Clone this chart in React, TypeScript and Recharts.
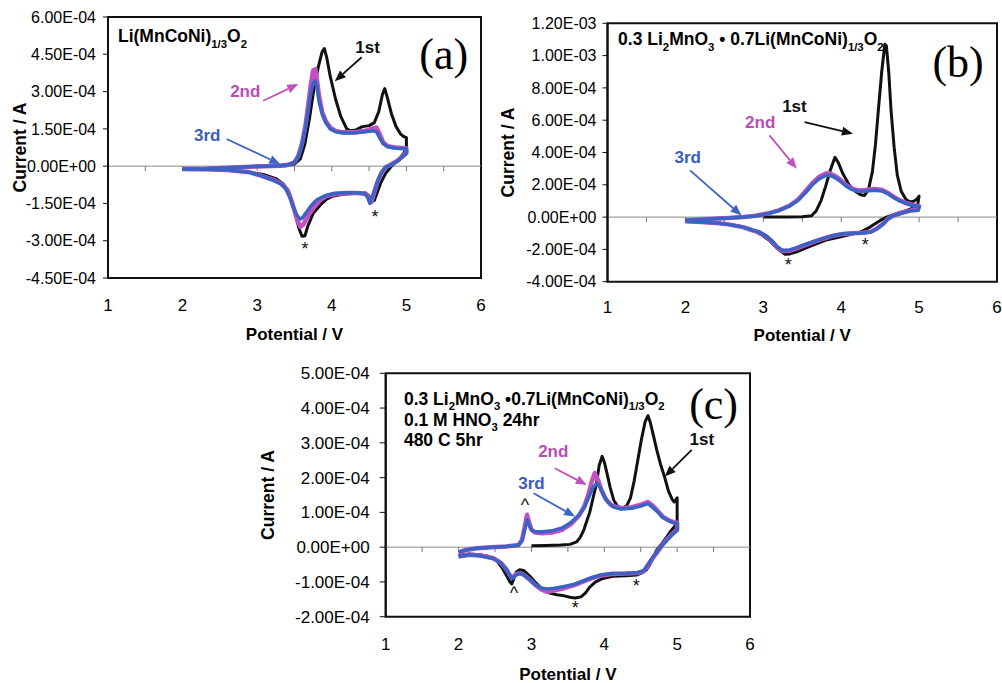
import React from 'react';
import { LineChart, Line, XAxis, YAxis, ReferenceLine, ReferenceArea, ReferenceDot } from 'recharts';

const SANS = '"Liberation Sans", Arial, Helvetica, sans-serif';
const SERIF = '"Liberation Serif", "Times New Roman", serif';
const BLACK = '#111111';
const MAGENTA = '#c251bf';
const BLUE = '#3b63c6';
const MAGENTA_TXT = '#b94db6';
const BLUE_TXT = '#3a5cc0';

// x: potential / V ; y: current in units of 1e-4 A
const potentialTicks = [1, 2, 3, 4, 5, 6];
const zeroLineTicks = [1.5, 2, 2.5, 3, 3.5, 4, 4.5, 5, 5.5];
const aCurrentTicks = [-4.5, -3, -1.5, 0, 1.5, 3, 4.5, 6];
const bCurrentTicks = [-4, -2, 0, 2, 4, 6, 8, 10, 12];
const cCurrentTicks = [-2, -1, 0, 1, 2, 3, 4, 5];

type Pt = [number, number];

// ---------- panel (a) Li(MnCoNi)1/3O2 ----------
const aCycle1: Pt[] = [
  [3.0, 0.0], [3.2, 0.0], [3.4, 0.02], [3.5, 0.08], [3.58, 0.3], [3.64, 0.9], [3.7, 1.9], [3.76, 3.1],
  [3.82, 4.0], [3.87, 4.6], [3.9, 4.73], [3.93, 4.4], [3.98, 3.6], [4.05, 2.7], [4.12, 2.0], [4.2, 1.5],
  [4.25, 1.42], [4.32, 1.45], [4.4, 1.58], [4.5, 1.63], [4.57, 1.75], [4.63, 2.2], [4.68, 2.9], [4.71, 3.12],
  [4.75, 2.7], [4.8, 2.1], [4.86, 1.6], [4.92, 1.3], [4.96, 1.2], [5.0, 1.15],
  [5.0, 0.7], [4.96, 0.5], [4.9, 0.28], [4.8, 0.0], [4.72, -0.3], [4.66, -0.65], [4.61, -1.05], [4.57, -1.38],
  [4.54, -1.42], [4.5, -1.2], [4.45, -1.08], [4.3, -1.1], [4.15, -1.13], [4.02, -1.2], [3.93, -1.33],
  [3.85, -1.55], [3.75, -1.9], [3.68, -2.4], [3.64, -2.8], [3.6, -2.82], [3.56, -2.5], [3.52, -2.05],
  [3.47, -1.45], [3.42, -1.0], [3.35, -0.72], [3.25, -0.5], [3.1, -0.35], [2.9, -0.25], [2.7, -0.19],
  [2.4, -0.15], [2.0, -0.12],
];
const aCycle2: Pt[] = [
  [2.0, -0.12], [2.3, -0.1], [2.6, -0.06], [2.9, -0.02], [3.1, 0.0], [3.3, 0.02], [3.42, 0.06], [3.5, 0.15],
  [3.55, 0.4], [3.6, 0.9], [3.65, 1.7], [3.69, 2.6], [3.72, 3.3], [3.75, 3.85], [3.78, 3.9], [3.8, 3.5],
  [3.83, 2.8], [3.87, 2.2], [3.92, 1.8], [3.98, 1.55], [4.05, 1.42], [4.15, 1.36], [4.3, 1.36], [4.45, 1.42],
  [4.55, 1.52], [4.6, 1.55], [4.64, 1.3], [4.69, 0.95], [4.75, 0.8], [4.85, 0.75], [5.0, 0.72],
  [5.0, 0.55], [4.95, 0.4], [4.88, 0.22], [4.8, 0.08], [4.72, -0.05], [4.66, -0.3], [4.61, -0.65],
  [4.57, -1.05], [4.53, -1.45], [4.5, -1.3], [4.46, -1.12], [4.35, -1.08], [4.2, -1.08], [4.05, -1.12],
  [3.93, -1.2], [3.85, -1.35], [3.76, -1.65], [3.68, -2.0], [3.62, -2.35], [3.58, -2.44], [3.54, -2.2],
  [3.5, -1.8], [3.45, -1.3], [3.4, -0.95], [3.32, -0.7], [3.22, -0.55], [3.05, -0.38], [2.9, -0.25],
  [2.6, -0.16], [2.3, -0.12], [2.0, -0.1],
];
const aCycle3: Pt[] = [
  [2.0, -0.12], [2.3, -0.1], [2.6, -0.06], [2.9, -0.02], [3.1, 0.0], [3.3, 0.02], [3.42, 0.06], [3.5, 0.15],
  [3.55, 0.4], [3.6, 0.85], [3.65, 1.6], [3.69, 2.4], [3.72, 2.95], [3.75, 3.35], [3.78, 3.43], [3.8, 3.2],
  [3.83, 2.6], [3.87, 2.1], [3.92, 1.75], [3.98, 1.5], [4.05, 1.38], [4.15, 1.33], [4.3, 1.33], [4.45, 1.38],
  [4.55, 1.42], [4.6, 1.38], [4.64, 1.15], [4.69, 0.9], [4.75, 0.78], [4.85, 0.72], [5.0, 0.7],
  [5.0, 0.5], [4.95, 0.38], [4.88, 0.2], [4.8, 0.06], [4.72, -0.05], [4.66, -0.3], [4.61, -0.65],
  [4.56, -1.1], [4.51, -1.5], [4.48, -1.25], [4.44, -1.1], [4.3, -1.07], [4.15, -1.07], [4.02, -1.1],
  [3.9, -1.2], [3.8, -1.35], [3.72, -1.6], [3.66, -1.86], [3.6, -2.1], [3.57, -2.13], [3.53, -1.95],
  [3.48, -1.6], [3.43, -1.2], [3.38, -0.9], [3.3, -0.68], [3.2, -0.55], [3.05, -0.38], [2.9, -0.25],
  [2.6, -0.16], [2.3, -0.12], [2.0, -0.1],
];

// ---------- panel (b) 0.3 Li2MnO3 • 0.7Li(MnCoNi)1/3O2 ----------
const bCycle1: Pt[] = [
  [3.0, 0.0], [3.3, 0.0], [3.5, 0.02], [3.62, 0.08], [3.68, 0.4], [3.74, 1.0], [3.8, 1.9], [3.86, 2.9],
  [3.92, 3.7], [3.96, 3.4], [4.02, 2.7], [4.1, 2.0], [4.18, 1.6], [4.25, 1.38], [4.3, 1.34], [4.35, 1.7],
  [4.4, 2.8], [4.44, 4.5], [4.48, 6.8], [4.52, 9.0], [4.56, 10.7], [4.58, 10.6], [4.61, 9.0], [4.64, 6.6],
  [4.68, 4.3], [4.72, 2.6], [4.77, 1.6], [4.83, 1.1], [4.88, 0.93], [4.93, 0.98], [4.97, 1.1], [5.0, 1.3],
  [4.98, 0.7], [4.92, 0.55], [4.84, 0.41], [4.7, 0.2], [4.58, 0.0], [4.47, -0.3], [4.37, -0.62],
  [4.25, -0.92], [4.1, -1.1], [3.98, -1.24], [3.82, -1.4], [3.68, -1.65], [3.55, -1.9], [3.43, -2.15],
  [3.34, -2.28], [3.28, -2.3], [3.22, -2.1], [3.15, -1.8], [3.08, -1.45], [2.98, -1.1], [2.83, -0.72],
  [2.65, -0.52], [2.48, -0.41], [2.25, -0.3], [2.0, -0.2],
];
const bCycle2: Pt[] = [
  [2.0, -0.2], [2.3, -0.12], [2.55, -0.05], [2.75, 0.0], [2.9, 0.08], [3.05, 0.22], [3.2, 0.42],
  [3.34, 0.72], [3.45, 1.1], [3.55, 1.65], [3.63, 2.1], [3.72, 2.5], [3.8, 2.7], [3.85, 2.72], [3.92, 2.55],
  [3.98, 2.35], [4.06, 2.0], [4.13, 1.78], [4.22, 1.65], [4.32, 1.68], [4.42, 1.74], [4.52, 1.7],
  [4.6, 1.5], [4.67, 1.27], [4.75, 1.05], [4.82, 0.9], [4.92, 0.75], [5.0, 0.68],
  [4.98, 0.45], [4.9, 0.42], [4.8, 0.3], [4.67, 0.1], [4.6, -0.1], [4.54, -0.41], [4.46, -0.7],
  [4.38, -0.9], [4.28, -0.97], [4.15, -1.0], [4.02, -1.04], [3.88, -1.18], [3.77, -1.34], [3.64, -1.55],
  [3.51, -1.78], [3.42, -1.95], [3.34, -2.08], [3.25, -2.1], [3.18, -1.9], [3.12, -1.55], [3.04, -1.2],
  [2.95, -0.95], [2.83, -0.78], [2.74, -0.62], [2.55, -0.45], [2.4, -0.37], [2.2, -0.3], [2.0, -0.25],
];
const bCycle3: Pt[] = [
  [2.0, -0.2], [2.3, -0.12], [2.55, -0.05], [2.75, 0.0], [2.9, 0.07], [3.05, 0.2], [3.2, 0.4],
  [3.34, 0.7], [3.45, 1.05], [3.55, 1.55], [3.63, 2.0], [3.72, 2.38], [3.8, 2.58], [3.85, 2.6],
  [3.92, 2.45], [3.98, 2.25], [4.06, 1.93], [4.13, 1.72], [4.22, 1.6], [4.32, 1.62], [4.42, 1.66],
  [4.52, 1.62], [4.6, 1.45], [4.67, 1.22], [4.75, 1.0], [4.82, 0.86], [4.92, 0.72], [5.0, 0.66],
  [4.99, 0.42], [4.9, 0.4], [4.8, 0.28], [4.67, 0.1], [4.6, -0.1], [4.54, -0.41], [4.46, -0.72],
  [4.38, -0.92], [4.28, -0.98], [4.15, -1.0], [4.02, -1.03], [3.88, -1.16], [3.77, -1.32], [3.64, -1.52],
  [3.51, -1.74], [3.42, -1.9], [3.34, -2.03], [3.25, -2.06], [3.18, -1.85], [3.12, -1.52], [3.04, -1.18],
  [2.95, -0.93], [2.83, -0.76], [2.74, -0.62], [2.55, -0.45], [2.4, -0.37], [2.2, -0.3], [2.0, -0.25],
];

// ---------- panel (c) acid treated + 480 C ----------
const cCycle1: Pt[] = [
  [3.0, 0.04], [3.2, 0.05], [3.4, 0.06], [3.53, 0.08], [3.62, 0.15], [3.67, 0.28], [3.72, 0.5],
  [3.76, 0.75], [3.8, 1.0], [3.85, 1.45], [3.89, 1.8], [3.93, 2.35], [3.97, 2.61], [4.0, 2.45],
  [4.04, 2.1], [4.08, 1.72], [4.13, 1.35], [4.18, 1.18], [4.25, 1.12], [4.31, 1.2], [4.36, 1.42],
  [4.41, 1.9], [4.46, 2.5], [4.51, 3.1], [4.56, 3.6], [4.6, 3.78], [4.63, 3.6], [4.67, 3.25],
  [4.72, 2.8], [4.77, 2.4], [4.83, 2.0], [4.88, 1.62], [4.93, 1.38], [4.96, 1.3], [4.98, 1.36],
  [5.0, 1.42], [5.0, 0.7], [4.96, 0.58], [4.92, 0.48], [4.86, 0.3], [4.81, 0.16], [4.76, 0.02],
  [4.72, -0.08], [4.67, -0.3], [4.63, -0.48], [4.58, -0.65], [4.52, -0.74], [4.44, -0.8], [4.3, -0.82],
  [4.12, -0.84], [3.98, -0.9], [3.88, -1.0], [3.8, -1.15], [3.74, -1.32], [3.68, -1.43], [3.6, -1.46],
  [3.53, -1.44], [3.45, -1.4], [3.35, -1.37], [3.25, -1.32], [3.18, -1.25], [3.12, -1.15], [3.05, -1.0],
  [2.98, -0.84], [2.9, -0.68], [2.84, -0.65], [2.79, -0.72], [2.75, -0.95], [2.73, -1.06], [2.7, -0.98],
  [2.66, -0.82], [2.6, -0.6], [2.52, -0.38], [2.4, -0.26], [2.29, -0.22], [2.15, -0.2], [2.0, -0.22],
];
const cCycle2: Pt[] = [
  [2.0, -0.15], [2.1, -0.08], [2.25, -0.03], [2.45, 0.0], [2.65, 0.02], [2.82, 0.06], [2.87, 0.2],
  [2.91, 0.6], [2.94, 0.93], [2.97, 0.7], [3.0, 0.5], [3.05, 0.42], [3.15, 0.4], [3.28, 0.42],
  [3.42, 0.5], [3.55, 0.68], [3.65, 0.9], [3.72, 1.15], [3.78, 1.5], [3.83, 1.9], [3.87, 2.13],
  [3.91, 1.95], [3.96, 1.65], [4.02, 1.38], [4.1, 1.2], [4.22, 1.12], [4.38, 1.15], [4.5, 1.22],
  [4.6, 1.3], [4.66, 1.2], [4.73, 1.05], [4.8, 0.88], [4.88, 0.78], [4.95, 0.72], [5.0, 0.7],
  [5.0, 0.5], [4.93, 0.38], [4.86, 0.22], [4.8, 0.08], [4.74, -0.1], [4.67, -0.3], [4.6, -0.52],
  [4.54, -0.7], [4.46, -0.74], [4.3, -0.76], [4.1, -0.77], [3.95, -0.82], [3.82, -0.9], [3.7, -1.0],
  [3.58, -1.1], [3.45, -1.18], [3.32, -1.24], [3.21, -1.28], [3.14, -1.22], [3.06, -1.1], [2.98, -0.94],
  [2.9, -0.8], [2.84, -0.75], [2.79, -0.78], [2.75, -0.85], [2.73, -0.88], [2.7, -0.8], [2.66, -0.65],
  [2.58, -0.45], [2.48, -0.32], [2.3, -0.24], [2.15, -0.22], [2.0, -0.27],
];
const cCycle3: Pt[] = [
  [2.0, -0.15], [2.1, -0.08], [2.25, -0.03], [2.45, 0.0], [2.65, 0.02], [2.82, 0.05], [2.87, 0.18],
  [2.91, 0.52], [2.94, 0.79], [2.97, 0.62], [3.0, 0.5], [3.05, 0.44], [3.15, 0.44], [3.28, 0.47],
  [3.42, 0.55], [3.55, 0.72], [3.65, 0.92], [3.72, 1.12], [3.78, 1.4], [3.84, 1.7], [3.9, 1.84],
  [3.94, 1.72], [3.99, 1.5], [4.05, 1.3], [4.12, 1.16], [4.22, 1.1], [4.38, 1.12], [4.5, 1.18],
  [4.6, 1.25], [4.66, 1.15], [4.73, 1.02], [4.8, 0.86], [4.88, 0.76], [4.95, 0.7], [5.0, 0.68],
  [5.0, 0.48], [4.93, 0.35], [4.86, 0.2], [4.8, 0.07], [4.74, -0.1], [4.67, -0.28], [4.6, -0.5],
  [4.54, -0.68], [4.46, -0.73], [4.3, -0.75], [4.1, -0.76], [3.95, -0.8], [3.82, -0.88], [3.7, -0.98],
  [3.58, -1.07], [3.45, -1.13], [3.32, -1.18], [3.21, -1.2], [3.12, -1.17], [3.05, -1.07], [2.98, -0.94],
  [2.9, -0.8], [2.84, -0.75], [2.79, -0.8], [2.75, -0.88], [2.73, -0.9], [2.7, -0.8], [2.66, -0.66],
  [2.58, -0.46], [2.48, -0.33], [2.3, -0.25], [2.15, -0.22], [2.0, -0.27],
];

type Seg = { t: string; sub?: boolean };
type Note = { text: string; v: number; i: number; color: string };
type Arrow = { from: Pt; to: Pt; color: string };
type FormulaLine = { v: number; i: number; segs: Seg[] };

const aFormula: FormulaLine[] = [
  { v: 1.134, i: 4.98, segs: [{ t: 'Li(MnCoNi)' }, { t: '1/3', sub: true }, { t: 'O' }, { t: '2', sub: true }] },
];
const bFormula: FormulaLine[] = [
  {
    v: 1.136, i: 10.63,
    segs: [{ t: '0.3 Li' }, { t: '2', sub: true }, { t: 'MnO' }, { t: '3', sub: true }, { t: ' • 0.7Li(MnCoNi)' },
      { t: '1/3', sub: true }, { t: 'O' }, { t: '2', sub: true }],
  },
];
const cFormula: FormulaLine[] = [
  {
    v: 1.25, i: 4.1,
    segs: [{ t: '0.3 Li' }, { t: '2', sub: true }, { t: 'MnO' }, { t: '3', sub: true }, { t: ' •0.7Li(MnCoNi)' },
      { t: '1/3', sub: true }, { t: 'O' }, { t: '2', sub: true }],
  },
  { v: 1.25, i: 3.48, segs: [{ t: '0.1 M HNO' }, { t: '3', sub: true }, { t: ' 24hr' }] },
  { v: 1.25, i: 2.9, segs: [{ t: '480 C 5hr' }] },
];

const aNotes: Note[] = [
  { text: '1st', v: 4.48, i: 4.77, color: BLACK },
  { text: '2nd', v: 2.84, i: 3.02, color: MAGENTA_TXT },
  { text: '3rd', v: 2.33, i: 1.22, color: BLUE_TXT },
];
const aArrows: Arrow[] = [
  { from: [4.4, 4.38], to: [4.04, 3.42], color: BLACK },
  { from: [3.08, 2.63], to: [3.55, 3.3], color: MAGENTA },
  { from: [2.59, 1.09], to: [3.31, 0.08], color: BLUE },
];
const aMarks: Note[] = [
  { text: '*', v: 3.64, i: -3.34, color: BLACK },
  { text: '*', v: 4.58, i: -2.06, color: BLACK },
];

const bNotes: Note[] = [
  { text: '1st', v: 3.4, i: 6.85, color: BLACK },
  { text: '2nd', v: 2.96, i: 5.88, color: MAGENTA_TXT },
  { text: '3rd', v: 2.03, i: 3.68, color: BLUE_TXT },
];
const bArrows: Arrow[] = [
  { from: [3.53, 5.88], to: [4.15, 5.16], color: BLACK },
  { from: [3.08, 5.06], to: [3.43, 3.0], color: MAGENTA },
  { from: [2.06, 2.89], to: [2.72, 0.1], color: BLUE },
];
const bMarks: Note[] = [
  { text: '*', v: 3.32, i: -2.99, color: BLACK },
  { text: '*', v: 4.31, i: -1.75, color: BLACK },
];

const cNotes: Note[] = [
  { text: '1st', v: 5.34, i: 3.09, color: BLACK },
  { text: '2nd', v: 3.3, i: 2.75, color: MAGENTA_TXT },
  { text: '3rd', v: 3.0, i: 1.84, color: BLUE_TXT },
];
const cArrows: Arrow[] = [
  { from: [5.2, 2.8], to: [4.83, 2.03], color: BLACK },
  { from: [3.32, 2.27], to: [3.76, 1.79], color: MAGENTA },
  { from: [3.03, 1.55], to: [3.6, 0.88], color: BLUE },
];
const cMarks: Note[] = [
  { text: '^', v: 2.91, i: 1.22, color: BLACK },
  { text: '^', v: 2.76, i: -1.32, color: BLACK },
  { text: '*', v: 3.6, i: -1.75, color: BLACK },
  { text: '*', v: 4.44, i: -1.13, color: BLACK },
];

const sci = (v: number) => {
  const a = v * 1e-4;
  if (Math.abs(a) < 1e-12) return '0.00E+00';
  const [m, e] = a.toExponential(2).split('e');
  const n = parseInt(e, 10);
  return `${m}E${n < 0 ? '-' : '+'}${String(Math.abs(n)).padStart(2, '0')}`;
};

const toData = (pts: Pt[]) => pts.map(([v, i]) => ({ v, i }));

const arrowShape = (p: any) => {
  const { x1, y1, x2, y2, stroke } = p;
  const ang = Math.atan2(y2 - y1, x2 - x1);
  const L = 11;
  const W = 4.5;
  const c = Math.cos(ang);
  const s = Math.sin(ang);
  const bx = x2 - L * c;
  const by = y2 - L * s;
  return (
    <g>
      <line x1={x1} y1={y1} x2={bx} y2={by} stroke={stroke} strokeWidth={1.8} />
      <polygon points={`${x2},${y2} ${bx + W * s},${by - W * c} ${bx - W * s},${by + W * c}`} fill={stroke} />
    </g>
  );
};

type PanelCfg = {
  left: number; top: number; width: number; height: number;
  margin: { top: number; right: number; bottom: number; left: number };
  yWidth: number; yDomain: [number, number]; yTicks: number[]; yFont: number;
  yTickSize: number; yTickMargin: number; yTitleOffset: number;
  xTickMargin: number; xHeight: number; xTitleOffset: number;
  tickLen: number;
  cycles: Pt[][];
  notes: Note[]; arrows: Arrow[]; marks: Note[]; formula: FormulaLine[];
  letter: string; letterPos: Pt;
};

const renderFormula = (segs: Seg[], x: number, y: number, size: number) => {
  const shift = size * 0.3;
  return (
    <text x={x} y={y} fontSize={size} fontWeight="bold" fontFamily={SANS} fill="#000" style={{ whiteSpace: 'pre' }}>
      {segs.map((s, k) => {
        const prevSub = k > 0 && !!segs[k - 1].sub;
        let dy = 0;
        if (s.sub && !prevSub) dy = shift;
        if (!s.sub && prevSub) dy = -shift;
        return (
          <tspan key={k} dy={dy} fontSize={s.sub ? size * 0.65 : size}>
            {s.t}
          </tspan>
        );
      })}
    </text>
  );
};

const cycleColors = [BLACK, MAGENTA, BLUE];
const cycleWidths = [3, 4.5, 3.5];

function Panel({ cfg }: { cfg: PanelCfg }) {
  return (
    <div style={{ position: 'absolute', left: cfg.left, top: cfg.top }}>
      <LineChart width={cfg.width} height={cfg.height} margin={cfg.margin}>
        <XAxis
          type="number"
          dataKey="v"
          domain={[1, 6]}
          ticks={potentialTicks}
          axisLine={false}
          tickLine={false}
          tickSize={0}
          tickMargin={cfg.xTickMargin}
          height={cfg.xHeight}
          tick={{ fontSize: 17, fill: '#000', fontFamily: SANS }}
          label={{
            value: 'Potential / V', position: 'insideBottom', offset: cfg.xTitleOffset,
            fontSize: 17, fontWeight: 'bold', fill: '#000', fontFamily: SANS,
          }}
        />
        <YAxis
          type="number"
          domain={cfg.yDomain}
          ticks={cfg.yTicks}
          width={cfg.yWidth}
          tickFormatter={sci}
          interval={0}
          axisLine={{ stroke: BLACK, strokeWidth: 2 }}
          tickLine={{ stroke: BLACK, strokeWidth: 1 }}
          tickSize={cfg.yTickSize}
          tickMargin={cfg.yTickMargin}
          tick={{ fontSize: cfg.yFont, fill: '#000', fontFamily: SANS }}
          label={{
            value: 'Current / A', angle: -90, position: 'insideLeft', offset: cfg.yTitleOffset,
            fontSize: 17.5, fontWeight: 'bold', fill: '#000', fontFamily: SANS, style: { textAnchor: 'middle' },
          }}
        />
        <ReferenceArea x1={1} x2={6} y1={cfg.yDomain[0]} y2={cfg.yDomain[1]} fill="#fff" fillOpacity={0} stroke={BLACK} strokeWidth={2} />
        <ReferenceLine y={0} stroke="#8a8a8a" strokeWidth={1} />
        {zeroLineTicks.map((t) => (
          <ReferenceLine key={`t${t}`} segment={[{ x: t, y: 0 }, { x: t, y: -cfg.tickLen }]} stroke="#777" strokeWidth={1} />
        ))}
        {cfg.cycles.map((c, k) => (
          <Line
            key={`c${k}`}
            data={toData(c)}
            dataKey="i"
            type="linear"
            stroke={cycleColors[k]}
            strokeWidth={cycleWidths[k]}
            strokeLinejoin="round"
            dot={false}
            activeDot={false}
            isAnimationActive={false}
          />
        ))}
        {cfg.arrows.map((a, k) => (
          <ReferenceLine
            key={`a${k}`}
            segment={[{ x: a.from[0], y: a.from[1] }, { x: a.to[0], y: a.to[1] }]}
            stroke={a.color}
            shape={arrowShape}
          />
        ))}
        {cfg.notes.map((n, k) => (
          <ReferenceDot
            key={`n${k}`}
            x={n.v}
            y={n.i}
            r={0}
            shape={(p: any) => (
              <text x={p.cx} y={p.cy} textAnchor="middle" dominantBaseline="central" fontSize={17} fontWeight="bold" fontFamily={SANS} fill={n.color}>
                {n.text}
              </text>
            )}
          />
        ))}
        {cfg.marks.map((n, k) => (
          <ReferenceDot
            key={`m${k}`}
            x={n.v}
            y={n.i}
            r={0}
            shape={(p: any) => (
              <text x={p.cx} y={p.cy} textAnchor="middle" dominantBaseline="central" fontSize={18} fontFamily={SANS} fill={n.color}>
                {n.text}
              </text>
            )}
          />
        ))}
        {cfg.formula.map((f, k) => (
          <ReferenceDot key={`f${k}`} x={f.v} y={f.i} r={0} shape={(p: any) => renderFormula(f.segs, p.cx, p.cy, 17.5)} />
        ))}
        <ReferenceDot
          x={cfg.letterPos[0]}
          y={cfg.letterPos[1]}
          r={0}
          shape={(p: any) => (
            <text x={p.cx} y={p.cy} textAnchor="middle" fontSize={44} fontFamily={SERIF} fill="#000">
              {cfg.letter}
            </text>
          )}
        />
      </LineChart>
    </div>
  );
}

const panelA: PanelCfg = {
  left: 0, top: 0, width: 490, height: 345,
  margin: { top: 17, right: 9, bottom: 0, left: 0 },
  yWidth: 108, yDomain: [-4.5, 6], yTicks: aCurrentTicks, yFont: 16,
  yTickSize: 5, yTickMargin: 7, yTitleOffset: 20,
  xTickMargin: 21, xHeight: 67, xTitleOffset: 5, tickLen: 0.2,
  cycles: [aCycle1, aCycle2, aCycle3],
  notes: aNotes, arrows: aArrows, marks: aMarks, formula: aFormula,
  letter: '(a)', letterPos: [5.5, 3.9],
};
const panelB: PanelCfg = {
  left: 490, top: 0, width: 512, height: 346,
  margin: { top: 23.3, right: 5, bottom: 0, left: 0 },
  yWidth: 117.5, yDomain: [-4, 12], yTicks: bCurrentTicks, yFont: 16,
  yTickSize: 5, yTickMargin: 6, yTitleOffset: 17.5,
  xTickMargin: 19, xHeight: 64.3, xTitleOffset: 5, tickLen: 0.31,
  cycles: [bCycle1, bCycle2, bCycle3],
  notes: bNotes, arrows: bArrows, marks: bMarks, formula: bFormula,
  letter: '(b)', letterPos: [5.5, 8.65],
};
const panelC: PanelCfg = {
  left: 240, top: 330, width: 520, height: 353,
  margin: { top: 43.3, right: 10, bottom: 0, left: 0 },
  yWidth: 145.7, yDomain: [-2, 5], yTicks: cCurrentTicks, yFont: 17,
  yTickSize: 6, yTickMargin: 10, yTitleOffset: 28,
  xTickMargin: 21.3, xHeight: 66.3, xTitleOffset: 3, tickLen: 0.14,
  cycles: [cCycle1, cCycle2, cCycle3],
  notes: cNotes, arrows: cArrows, marks: cMarks, formula: cFormula,
  letter: '(c)', letterPos: [5.5, 3.69],
};

export default function App() {
  return (
    <div style={{ position: 'absolute', left: 0, top: 0, width: 1002, height: 683, background: '#fff', overflow: 'hidden' }}>
      <Panel cfg={panelA} />
      <Panel cfg={panelB} />
      <Panel cfg={panelC} />
    </div>
  );
}
